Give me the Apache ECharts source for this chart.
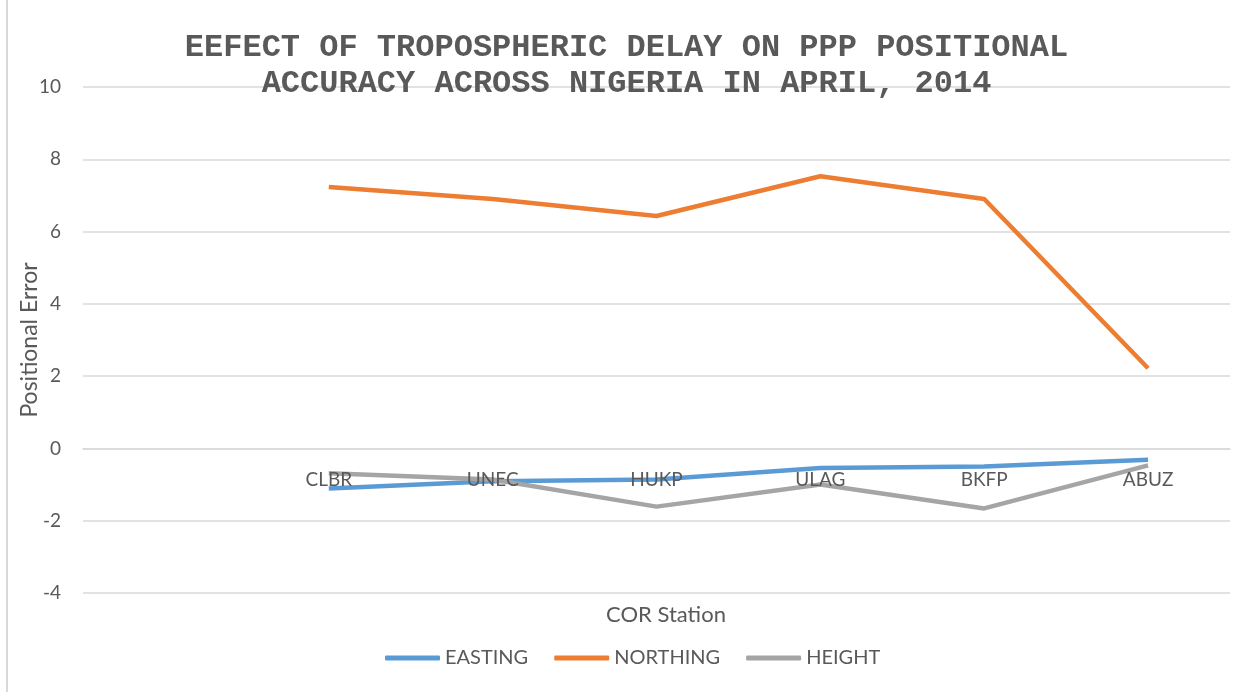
<!DOCTYPE html>
<html>
<head>
<meta charset="utf-8">
<script src="https://cdn.jsdelivr.net/npm/echarts@6/dist/echarts.min.js"></script>
<style>
    html, body { margin:0; padding:0; background:#fff; }
    #frame { position:absolute; left:0; top:0; width:1253px; height:692px; }
    #edge { position:absolute; left:6px; top:0; width:2px; height:692px; background:#d9d9d9; }
    #chart { position:absolute; left:0; top:0; width:1253px; height:692px; }
</style>
</head>
<body>
<div id="frame">
    <div id="edge"></div>
    <div id="chart"></div>
</div>
<script>
// 站点 (first slot left empty, as in the source sheet)
var stations = ['', 'CLBR', 'UNEC', 'HUKP', 'ULAG', 'BKFP', 'ABUZ'];
var easting  = [null, -1.11, -0.91, -0.86, -0.54, -0.50, -0.31];
var northing = [null, 7.23, 6.90, 6.43, 7.53, 6.90, 2.22];
var height   = [null, -0.69, -0.86, -1.61, -1.00, -1.66, -0.47];
var seriesNames = ['EASTING', 'NORTHING', 'HEIGHT'];
var colorList = ['#5b9bd5', '#ed7d31', '#a5a5a5'];
var yMin = -4, yMax = 10, yStep = 2;

var chart = echarts.init(document.getElementById('chart'));

var labelFont = 'Lato, "Open Sans", sans-serif';
var gridTop = 87, gridBottom = 99;
var plotH = chart.getHeight() - gridTop - gridBottom;
// 让x轴落在0线上
var xOffset = -plotH * (0 - yMin) / (yMax - yMin);

function lineSeries(name, data, color) {
    return {
        name: name,
        type: 'line',
        data: data,
        symbol: 'none',
        z: 1,
        connectNulls: false,
        lineStyle: { width: 4.5, color: color },
        itemStyle: { color: color }
    };
}

var option = {
    animation: false,
    color: colorList,
    title: [
        {
            text: 'EEFECT OF TROPOSPHERIC DELAY ON PPP POSITIONAL\nACCURACY ACROSS NIGERIA IN APRIL, 2014',
            left: 'center',
            top: 25,
            textStyle: {
                fontFamily: '"Liberation Mono", "DejaVu Sans Mono", monospace',
                fontWeight: 'bold',
                fontSize: 32,
                lineHeight: 36,
                color: '#595959'
            }
        },
        {
            text: 'COR Station',
            left: 661,
            textAlign: 'center',
            top: 599,
            textStyle: { fontFamily: labelFont, fontSize: 22, fontWeight: 'normal', color: '#595959' }
        }
    ],
    legend: {
        data: seriesNames,
        bottom: 19,
        left: 380,
        icon: 'roundRect',
        itemWidth: 55,
        itemHeight: 5,
        itemGap: 26,
        textStyle: { fontFamily: labelFont, fontSize: 20, color: '#595959' }
    },
    grid: {
        left: 83,
        right: 23,
        top: gridTop,
        bottom: gridBottom,
        containLabel: false
    },
    xAxis: {
        type: 'category',
        data: stations,
        boundaryGap: true,
        position: 'bottom',
        offset: xOffset,
        z: 5,
        axisLine: { show: true, onZero: false, lineStyle: { color: '#d9d9d9', width: 1.5 } },
        axisTick: { show: false },
        axisLabel: { margin: 22, fontFamily: labelFont, fontSize: 19, color: '#595959' },
        splitLine: { show: false }
    },
    yAxis: {
        type: 'value',
        min: yMin,
        max: yMax,
        interval: yStep,
        name: 'Positional Error',
        nameLocation: 'middle',
        nameGap: 42,
        nameMoveOverlap: false,
        nameTextStyle: { fontFamily: labelFont, fontSize: 23, color: '#595959' },
        axisLine: { show: false },
        axisTick: { show: false },
        axisLabel: { margin: 22, fontFamily: labelFont, fontSize: 19, color: '#595959' },
        splitLine: { lineStyle: { color: '#d9d9d9', width: 1.5 } }
    },
    series: [
        lineSeries(seriesNames[0], easting, colorList[0]),
        lineSeries(seriesNames[1], northing, colorList[1]),
        lineSeries(seriesNames[2], height, colorList[2])
    ]
};

chart.setOption(option);
</script>
</body>
</html>
